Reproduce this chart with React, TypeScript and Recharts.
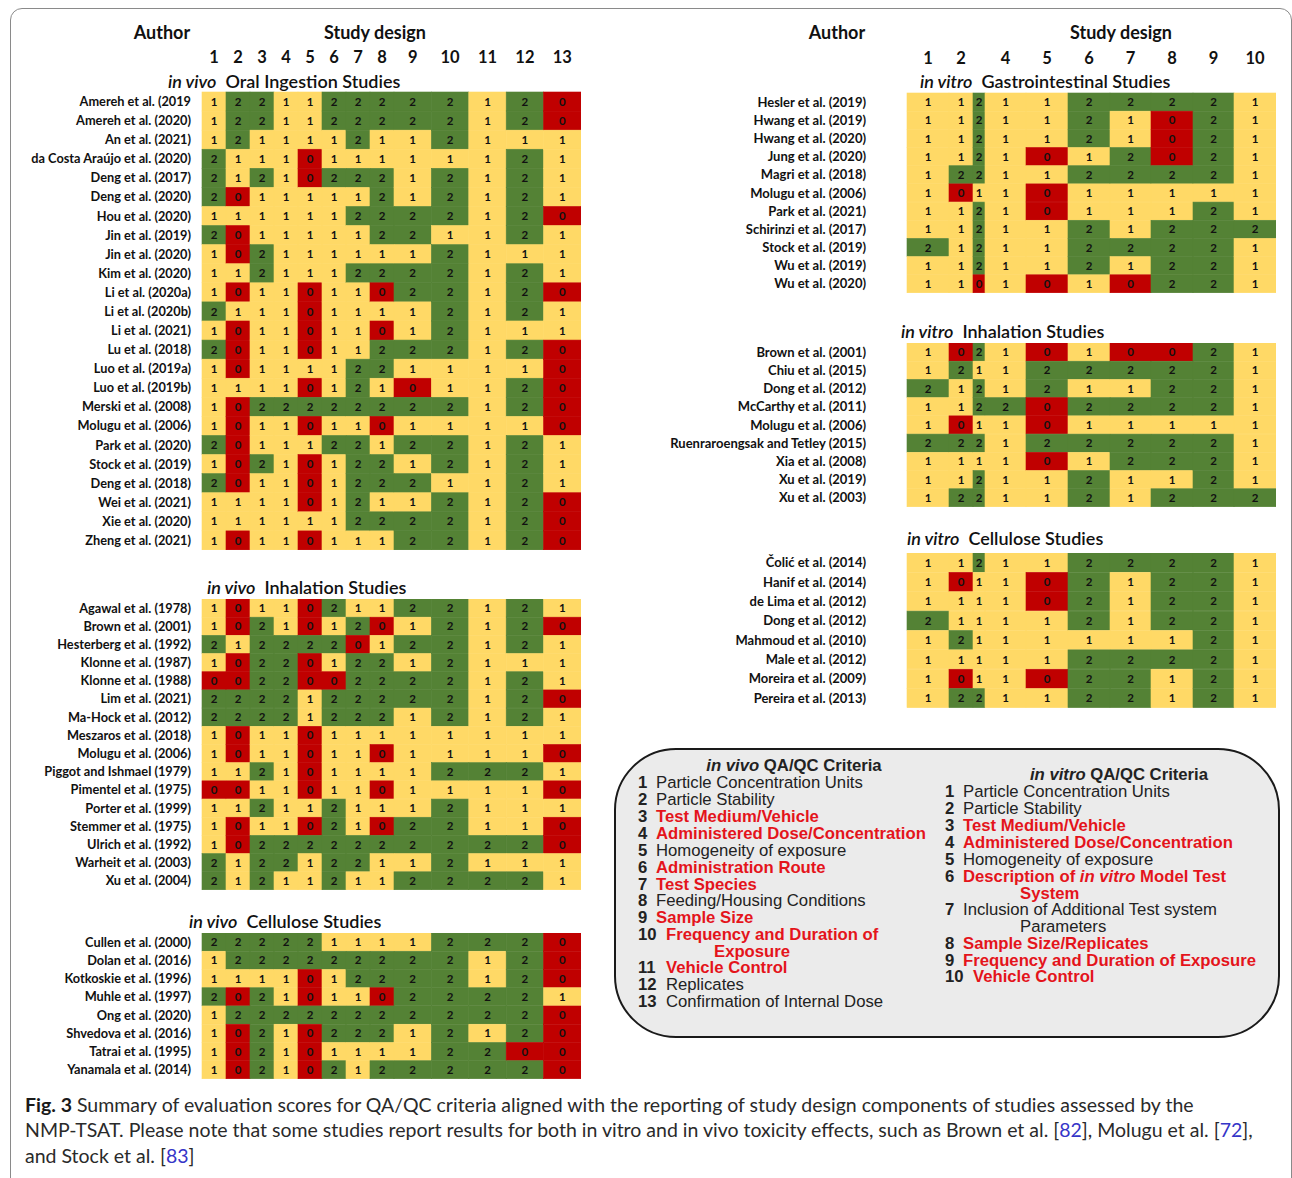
import React from "react";
import { BarChart, Bar, XAxis, YAxis } from "recharts";

// ---- column headers ----
const vivoColumns = ["1", "2", "3", "4", "5", "6", "7", "8", "9", "10", "11", "12", "13"];
const vitroColumns = ["1", "2", "", "4", "5", "6", "7", "8", "9", "10"];

// ---- in vivo oral ingestion ----
const oralAuthors = [
  "Amereh et al. (2019", "Amereh et al. (2020)", "An et al. (2021)", "da Costa Araújo et al. (2020)",
  "Deng et al. (2017)", "Deng et al. (2020)", "Hou et al. (2020)", "Jin et al. (2019)", "Jin et al. (2020)",
  "Kim et al. (2020)", "Li et al. (2020a)", "Li et al. (2020b)", "Li et al. (2021)", "Lu et al. (2018)",
  "Luo et al. (2019a)", "Luo et al. (2019b)", "Merski et al. (2008)", "Molugu et al. (2006)",
  "Park et al. (2020)", "Stock et al. (2019)", "Deng et al. (2018)", "Wei et al. (2021)",
  "Xie et al. (2020)", "Zheng et al. (2021)",
];
const oralScores = [
  [1, 2, 2, 1, 1, 2, 2, 2, 2, 2, 1, 2, 0],
  [1, 2, 2, 1, 1, 2, 2, 2, 2, 2, 1, 2, 0],
  [1, 2, 1, 1, 1, 1, 2, 1, 1, 2, 1, 1, 1],
  [2, 1, 1, 1, 0, 1, 1, 1, 1, 1, 1, 2, 1],
  [2, 1, 2, 1, 0, 2, 2, 2, 1, 2, 1, 2, 1],
  [2, 0, 1, 1, 1, 1, 1, 2, 1, 2, 1, 2, 1],
  [1, 1, 1, 1, 1, 1, 2, 2, 2, 2, 1, 2, 0],
  [2, 0, 1, 1, 1, 1, 1, 2, 2, 1, 1, 2, 1],
  [1, 0, 2, 1, 1, 1, 1, 1, 1, 2, 1, 1, 1],
  [1, 1, 2, 1, 1, 1, 2, 2, 2, 2, 1, 2, 1],
  [1, 0, 1, 1, 0, 1, 1, 0, 2, 2, 1, 2, 0],
  [2, 1, 1, 1, 0, 1, 1, 1, 1, 2, 1, 2, 1],
  [1, 0, 1, 1, 0, 1, 1, 0, 1, 2, 1, 1, 1],
  [2, 0, 1, 1, 0, 1, 1, 2, 2, 2, 1, 2, 0],
  [1, 0, 1, 1, 1, 1, 2, 2, 1, 1, 1, 1, 0],
  [1, 1, 1, 1, 0, 1, 2, 1, 0, 1, 1, 2, 0],
  [1, 0, 2, 2, 2, 2, 2, 2, 2, 2, 1, 2, 0],
  [1, 0, 1, 1, 0, 1, 1, 0, 1, 1, 1, 1, 0],
  [2, 0, 1, 1, 1, 2, 2, 1, 2, 2, 1, 2, 1],
  [1, 0, 2, 1, 0, 1, 2, 2, 1, 2, 1, 2, 1],
  [2, 0, 1, 1, 0, 1, 2, 2, 2, 1, 1, 2, 1],
  [1, 1, 1, 1, 0, 1, 2, 1, 1, 2, 1, 2, 0],
  [1, 1, 1, 1, 1, 1, 2, 2, 2, 2, 1, 2, 0],
  [1, 0, 1, 1, 0, 1, 1, 1, 2, 2, 1, 2, 0],
];

// ---- in vivo inhalation ----
const vivoInhAuthors = [
  "Agawal et al. (1978)", "Brown et al. (2001)", "Hesterberg et al. (1992)", "Klonne et al. (1987)",
  "Klonne et al. (1988)", "Lim et al. (2021)", "Ma-Hock et al. (2012)", "Meszaros et al. (2018)",
  "Molugu et al. (2006)", "Piggot and Ishmael (1979)", "Pimentel et al. (1975)", "Porter et al. (1999)",
  "Stemmer et al. (1975)", "Ulrich et al. (1992)", "Warheit et al. (2003)", "Xu et al. (2004)",
];
const vivoInhScores = [
  [1, 0, 1, 1, 0, 2, 1, 1, 2, 2, 1, 2, 1],
  [1, 0, 2, 1, 0, 1, 2, 0, 1, 2, 1, 2, 0],
  [2, 1, 2, 2, 2, 2, 0, 1, 2, 2, 1, 2, 1],
  [1, 0, 2, 2, 0, 1, 2, 2, 1, 2, 1, 1, 1],
  [0, 0, 2, 2, 0, 0, 2, 2, 2, 2, 1, 2, 1],
  [2, 2, 2, 2, 1, 2, 2, 2, 2, 2, 1, 2, 0],
  [2, 2, 2, 2, 1, 2, 2, 2, 1, 2, 1, 2, 1],
  [1, 0, 1, 1, 0, 1, 1, 1, 1, 1, 1, 1, 1],
  [1, 0, 1, 1, 0, 1, 1, 0, 1, 1, 1, 1, 0],
  [1, 1, 2, 1, 0, 1, 1, 1, 1, 2, 2, 2, 1],
  [0, 0, 1, 1, 0, 1, 1, 0, 1, 1, 1, 1, 0],
  [1, 1, 2, 1, 1, 2, 1, 1, 1, 2, 1, 1, 1],
  [1, 0, 1, 1, 0, 2, 1, 0, 2, 2, 1, 1, 0],
  [1, 0, 2, 2, 2, 2, 2, 2, 2, 2, 2, 2, 0],
  [2, 1, 2, 2, 1, 2, 2, 1, 1, 2, 1, 1, 1],
  [2, 1, 2, 1, 1, 2, 1, 1, 2, 2, 2, 2, 1],
];

// ---- in vivo cellulose ----
const vivoCellAuthors = [
  "Cullen et al. (2000)", "Dolan et al. (2016)", "Kotkoskie et al. (1996)", "Muhle et al. (1997)",
  "Ong et al. (2020)", "Shvedova et al. (2016)", "Tatrai et al. (1995)", "Yanamala et al. (2014)",
];
const vivoCellScores = [
  [2, 2, 2, 2, 2, 1, 1, 1, 1, 2, 2, 2, 0],
  [1, 2, 2, 2, 2, 2, 2, 2, 2, 2, 1, 2, 0],
  [1, 1, 1, 1, 0, 1, 2, 2, 2, 2, 1, 2, 0],
  [2, 0, 2, 1, 0, 1, 1, 0, 2, 2, 2, 2, 1],
  [1, 2, 2, 2, 2, 2, 2, 2, 2, 2, 2, 2, 0],
  [1, 0, 2, 1, 0, 2, 2, 2, 1, 2, 1, 2, 0],
  [1, 0, 2, 1, 0, 1, 1, 1, 1, 2, 2, 0, 0],
  [1, 0, 2, 1, 0, 2, 1, 2, 2, 2, 2, 2, 0],
];

// ---- in vitro gastrointestinal ----
const giAuthors = [
  "Hesler et al. (2019)", "Hwang et al. (2019)", "Hwang et al. (2020)", "Jung et al. (2020)",
  "Magri et al. (2018)", "Molugu et al. (2006)", "Park et al. (2021)", "Schirinzi et al. (2017)",
  "Stock et al. (2019)", "Wu et al. (2019)", "Wu et al. (2020)",
];
const giScores = [
  [1, 1, 2, 1, 1, 2, 2, 2, 2, 1],
  [1, 1, 2, 1, 1, 2, 1, 0, 2, 1],
  [1, 1, 2, 1, 1, 2, 1, 0, 2, 1],
  [1, 1, 2, 1, 0, 1, 2, 0, 2, 1],
  [1, 2, 2, 1, 1, 2, 2, 2, 2, 1],
  [1, 0, 1, 1, 0, 1, 1, 1, 1, 1],
  [1, 1, 2, 1, 0, 1, 1, 1, 2, 1],
  [1, 1, 2, 1, 1, 2, 1, 2, 2, 2],
  [2, 1, 2, 1, 1, 2, 2, 2, 2, 1],
  [1, 1, 2, 1, 1, 2, 1, 2, 2, 1],
  [1, 1, 0, 1, 0, 1, 0, 2, 2, 1],
];

// ---- in vitro inhalation ----
const vitroInhAuthors = [
  "Brown et al. (2001)", "Chiu et al. (2015)", "Dong et al. (2012)", "McCarthy et al. (2011)",
  "Molugu et al. (2006)", "Ruenraroengsak and Tetley (2015)", "Xia et al. (2008)", "Xu et al. (2019)",
  "Xu et al. (2003)",
];
const vitroInhScores = [
  [1, 0, 2, 1, 0, 1, 0, 0, 2, 1],
  [1, 2, 1, 1, 2, 2, 2, 2, 2, 1],
  [2, 1, 2, 1, 2, 1, 1, 2, 2, 1],
  [1, 1, 2, 2, 0, 2, 2, 2, 2, 1],
  [1, 0, 1, 1, 0, 1, 1, 1, 1, 1],
  [2, 2, 2, 1, 2, 2, 2, 2, 2, 1],
  [1, 1, 1, 1, 0, 1, 2, 2, 2, 1],
  [1, 1, 2, 1, 1, 2, 1, 1, 2, 1],
  [1, 2, 2, 1, 1, 2, 1, 2, 2, 2],
];

// ---- in vitro cellulose ----
const vitroCellAuthors = [
  "Čolić et al. (2014)", "Hanif et al. (2014)", "de Lima et al. (2012)", "Dong et al. (2012)",
  "Mahmoud et al. (2010)", "Male et al. (2012)", "Moreira et al. (2009)", "Pereira et al. (2013)",
];
const vitroCellScores = [
  [1, 1, 2, 1, 1, 2, 2, 2, 2, 1],
  [1, 0, 1, 1, 0, 2, 1, 2, 2, 1],
  [1, 1, 1, 1, 0, 2, 1, 2, 2, 1],
  [2, 1, 1, 1, 1, 2, 1, 2, 2, 1],
  [1, 2, 1, 1, 1, 1, 1, 1, 2, 1],
  [1, 1, 1, 1, 1, 2, 2, 2, 2, 1],
  [1, 0, 1, 1, 0, 2, 2, 1, 2, 1],
  [1, 2, 2, 1, 1, 2, 2, 1, 2, 1],
];

// ---- legend text ----
const vivoCriteria = [
  { n: "1", t: "Particle Concentration Units", red: false },
  { n: "2", t: "Particle Stability", red: false },
  { n: "3", t: "Test Medium/Vehicle", red: true },
  { n: "4", t: "Administered Dose/Concentration", red: true },
  { n: "5", t: "Homogeneity of exposure", red: false },
  { n: "6", t: "Administration Route", red: true },
  { n: "7", t: "Test Species", red: true },
  { n: "8", t: "Feeding/Housing Conditions", red: false },
  { n: "9", t: "Sample Size", red: true },
  { n: "10", t: "Frequency and Duration of", red: true, cont: "Exposure" },
  { n: "11", t: "Vehicle Control", red: true },
  { n: "12", t: "Replicates", red: false },
  { n: "13", t: "Confirmation of Internal Dose", red: false },
];
const vitroCriteria = [
  { n: "1", t: " Particle Concentration Units", red: false },
  { n: "2", t: "Particle Stability", red: false },
  { n: "3", t: "Test Medium/Vehicle", red: true },
  { n: "4", t: "Administered Dose/Concentration", red: true },
  { n: "5", t: "Homogeneity of exposure", red: false },
  { n: "6", t: "Description of |in vitro| Model Test", red: true, cont: "System" },
  { n: "7", t: "Inclusion of Additional Test system", red: false, cont: "Parameters" },
  { n: "8", t: "Sample Size/Replicates", red: true },
  { n: "9", t: "Frequency and Duration of Exposure", red: true },
  { n: "10", t: "Vehicle Control", red: true },
];

const COLORS = ["#C00000", "#FFD966", "#548235"];
const FONT = "Lato, 'Noto Sans', sans-serif";
const LEG_FONT = "'Liberation Sans', Arial, sans-serif";
const LEG_RED = "#E4141B";

// pixel widths of the grid columns
const VIVO_W = [24, 24, 24, 24, 24, 24, 24, 24, 37.4, 37.4, 37.4, 37.4, 37.4];
const VITRO_W = [42, 24, 12, 41, 42, 42, 41, 42, 41, 42];

function HeatPanel({
  authors, scores, widths, labels, gridLeft, gridTop, gridBottom, labelW, gap, header, labelSize,
}: {
  authors: string[]; scores: number[][]; widths: number[]; labels: string[];
  gridLeft: number; gridTop: number; gridBottom: number; labelW: number; gap: number; header: boolean;
  labelSize: number;
}) {
  const total = widths.reduce((a, b) => a + b, 0);
  const centers = widths.map((w, i) => widths.slice(0, i).reduce((a, b) => a + b, 0) + w / 2);
  const data = authors.map((author, i) => ({ author, scores: scores[i] }));
  const headH = header ? 52 : 0;
  return (
    <div style={{ position: "absolute", left: gridLeft - labelW, top: gridTop - headH }}>
      <BarChart
        layout="vertical"
        width={labelW + total}
        height={headH + gridBottom - gridTop}
        data={data}
        margin={{ top: 0, right: 0, bottom: 0, left: 0 }}
        barCategoryGap={0}
        barGap={0}
      >
        <XAxis
          type="number"
          domain={[0, total]}
          orientation="top"
          hide={!header}
          height={headH}
          ticks={centers}
          interval={0}
          axisLine={false}
          tickLine={false}
          tickSize={0}
          tickMargin={0}
          tick={(p: any) => (
            <text
              x={p.x}
              y={p.y - 35}
              dy="0.35em"
              textAnchor="middle"
              fontFamily={FONT}
              fontWeight={700}
              fontSize={16.5}
              fill="#111"
            >
              {labels[centers.indexOf(p.payload.value)]}
            </text>
          )}
        />
        <YAxis
          type="category"
          dataKey="author"
          width={labelW}
          interval={0}
          axisLine={false}
          tickLine={false}
          tickSize={0}
          tickMargin={0}
          tick={(p: any) => (
            <text
              x={p.x - gap}
              y={p.y}
              dy="0.35em"
              textAnchor="end"
              fontFamily={FONT}
              fontWeight={700}
              fontSize={labelSize}
              fill="#111"
            >
              {p.payload.value}
            </text>
          )}
        />
        {widths.map((w, j) => (
          <Bar
            key={j}
            dataKey={() => w}
            stackId="row"
            isAnimationActive={false}
            shape={(p: any) => {
              const s = p.payload.scores[j];
              const c = COLORS[s];
              return (
                <g>
                  <rect x={p.x} y={p.y} width={p.width} height={p.height} fill={c} stroke={c} strokeWidth={0.6} />
                  <text
                    x={p.x + p.width / 2}
                    y={p.y + p.height / 2}
                    dy="0.36em"
                    textAnchor="middle"
                    fontFamily={FONT}
                    fontWeight={700}
                    fontSize={11.5}
                    fill="#111"
                  >
                    {s}
                  </text>
                </g>
              );
            }}
          />
        ))}
      </BarChart>
    </div>
  );
}

function Txt({ x, y, children, style, center }: any) {
  return (
    <div
      style={{
        position: "absolute",
        left: x,
        top: y - 11,
        lineHeight: "22px",
        whiteSpace: "nowrap",
        transform: center ? "translateX(-50%)" : undefined,
        ...style,
      }}
    >
      {children}
    </div>
  );
}

function Title({ x, y, italic, rest }: { x: number; y: number; italic: string; rest: string }) {
  return (
    <Txt x={x} y={y} style={{ fontFamily: FONT, fontSize: 18, fontWeight: 600, color: "#111" }}>
      <i>{italic}</i>&nbsp; {rest}
    </Txt>
  );
}

function renderCrit(t: string) {
  const parts = t.split("|");
  return parts.map((s, i) => (i % 2 === 1 ? <i key={i}>{s}</i> : <span key={i}>{s}</span>));
}

function Legend() {
  const leftYs = [783, 800, 817, 834, 851, 868, 885, 901, 918, 935, 968, 985, 1002];
  const rightYs = [792, 809, 826, 843, 860, 877, 910, 944, 961, 977];
  const base = { fontFamily: LEG_FONT, fontSize: 16.7, color: "#222" };
  return (
    <>
      <div
        style={{
          position: "absolute",
          left: 614,
          top: 748,
          width: 662,
          height: 286,
          border: "2px solid #1a1a1a",
          borderRadius: 62,
          background: "#ebebeb",
        }}
      />
      <Txt x={794} y={766} center style={{ ...base, fontWeight: 700 }}>
        <i>in vivo</i> QA/QC Criteria
      </Txt>
      {vivoCriteria.map((c, i) => {
        const tx = Number(c.n) >= 10 ? 666 : 656;
        const st = c.red ? { ...base, color: LEG_RED, fontWeight: 700 } : base;
        return (
          <React.Fragment key={c.n}>
            <Txt x={638} y={leftYs[i]} style={{ ...base, fontWeight: 700 }}>{c.n}</Txt>
            <Txt x={tx} y={leftYs[i]} style={st}>{c.t}</Txt>
            {c.cont && <Txt x={714} y={leftYs[i] + 17} style={st}>{c.cont}</Txt>}
          </React.Fragment>
        );
      })}
      <Txt x={1119} y={775} center style={{ ...base, fontWeight: 700 }}>
        <i>in vitro</i> QA/QC Criteria
      </Txt>
      {vitroCriteria.map((c, i) => {
        const tx = c.n === "10" ? 973 : 963;
        const st = c.red ? { ...base, color: LEG_RED, fontWeight: 700 } : base;
        return (
          <React.Fragment key={c.n}>
            <Txt x={945} y={rightYs[i]} style={{ ...base, fontWeight: 700 }}>{c.n}</Txt>
            <Txt x={tx} y={rightYs[i]} style={st}>{renderCrit(c.t)}</Txt>
            {c.cont && <Txt x={1020} y={rightYs[i] + 17} style={st}>{c.cont}</Txt>}
          </React.Fragment>
        );
      })}
    </>
  );
}

export default function App() {
  const head = { fontFamily: FONT, fontSize: 18, fontWeight: 700, color: "#111" };
  const cap = { fontFamily: FONT, fontSize: 19.5, color: "#2a2a2a" };
  const link = { color: "#3535c8" };
  return (
    <div style={{ position: "absolute", left: 0, top: 0, width: 1292, height: 1178, overflow: "hidden", background: "#fff" }}>
      <div
        style={{
          position: "absolute",
          left: 10,
          top: 8,
          width: 1280,
          height: 1240,
          border: "1px solid #8a8a8a",
          borderRadius: 12,
        }}
      />
      <Txt x={162} y={32} center style={head}>Author</Txt>
      <Txt x={375} y={32} center style={head}>Study design</Txt>
      <Txt x={837} y={32} center style={head}>Author</Txt>
      <Txt x={1121} y={32} center style={head}>Study design</Txt>

      <Title x={168} y={81} italic="in vivo" rest="Oral Ingestion Studies" />
      <Title x={207} y={587} italic="in vivo" rest="Inhalation Studies" />
      <Title x={189} y={921} italic="in vivo" rest="Cellulose Studies" />
      <Title x={920} y={81} italic="in vitro" rest="Gastrointestinal Studies" />
      <Title x={901} y={331} italic="in vitro" rest="Inhalation Studies" />
      <Title x={907} y={538} italic="in vitro" rest="Cellulose Studies" />

      <HeatPanel authors={oralAuthors} scores={oralScores} widths={VIVO_W} labels={vivoColumns}
        gridLeft={202} gridTop={92} gridBottom={550} labelW={195} gap={11} header labelSize={12.75} />
      <HeatPanel authors={vivoInhAuthors} scores={vivoInhScores} widths={VIVO_W} labels={vivoColumns}
        gridLeft={202} gridTop={599} gridBottom={890} labelW={195} gap={11} header={false} labelSize={12.75} />
      <HeatPanel authors={vivoCellAuthors} scores={vivoCellScores} widths={VIVO_W} labels={vivoColumns}
        gridLeft={202} gridTop={933} gridBottom={1079} labelW={195} gap={11} header={false} labelSize={12.75} />

      <HeatPanel authors={giAuthors} scores={giScores} widths={VITRO_W} labels={vitroColumns}
        gridLeft={907} gridTop={93} gridBottom={293} labelW={250} gap={41} header labelSize={13} />
      <HeatPanel authors={vitroInhAuthors} scores={vitroInhScores} widths={VITRO_W} labels={vitroColumns}
        gridLeft={907} gridTop={343} gridBottom={507} labelW={250} gap={41} header={false} labelSize={13} />
      <HeatPanel authors={vitroCellAuthors} scores={vitroCellScores} widths={VITRO_W} labels={vitroColumns}
        gridLeft={907} gridTop={553} gridBottom={708} labelW={250} gap={41} header={false} labelSize={13} />

      <Legend />

      <Txt x={25} y={1105} style={cap}>
        <b style={{ color: "#1a1a1a" }}>Fig. 3</b> Summary of evaluation scores for QA/QC criteria aligned with the reporting of study design components of studies assessed by the
      </Txt>
      <Txt x={25} y={1130} style={cap}>
        NMP-TSAT. Please note that some studies report results for both in vitro and in vivo toxicity effects, such as Brown et al. [<span style={link}>82</span>], Molugu et al. [<span style={link}>72</span>],
      </Txt>
      <Txt x={25} y={1156} style={cap}>
        and Stock et al. [<span style={link}>83</span>]
      </Txt>
    </div>
  );
}
